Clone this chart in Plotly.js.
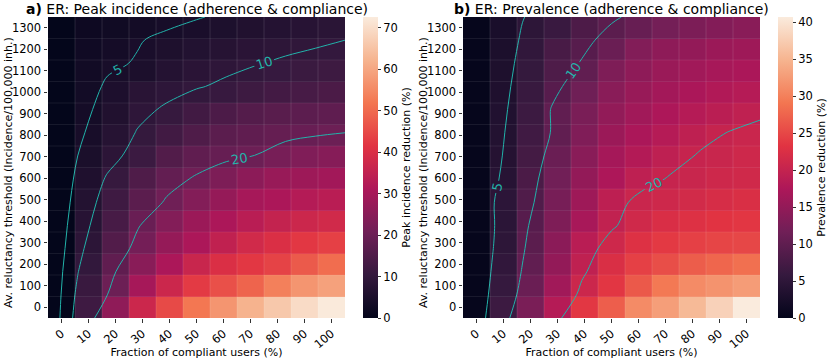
<!DOCTYPE html>
<html>
<head>
<meta charset="utf-8">
<script src="https://cdn.plot.ly/plotly-3.0.1.min.js"></script>
<style>
  body { margin: 0; background: #fff; }
  #plot { width: 830px; height: 359px; }
</style>
</head>
<body>
<div id="plot"></div>
<script>
// fraction of compliant users (%) and reluctancy threshold (incidence / 100,000 inh.)
var fractions = [0, 10, 20, 30, 40, 50, 60, 70, 80, 90, 100];
var thresholds = [0, 100, 200, 300, 400, 500, 600, 700, 800, 900, 1000, 1100, 1200, 1300];

// a) peak incidence reduction (%), one row per threshold
var peak_reduction = [
  [0.3, 12.0, 26.0, 37.0, 45.0, 52.0, 57.0, 62.0, 66.0, 69.5, 72.4],
  [0.3, 11.0, 20.0, 30.0, 37.0, 42.5, 46.0, 49.0, 53.5, 57.0, 59.0],
  [0.3, 9.8, 18.0, 25.0, 31.0, 36.5, 40.0, 42.0, 44.0, 47.5, 50.5],
  [0.3, 8.5, 15.5, 21.5, 27.0, 31.0, 35.0, 38.0, 40.0, 42.0, 43.5],
  [0.3, 7.5, 13.5, 19.5, 24.0, 28.0, 31.0, 33.5, 35.5, 37.0, 38.0],
  [0.3, 6.6, 12.0, 17.0, 20.5, 24.0, 27.0, 30.0, 31.0, 32.5, 33.5],
  [0.3, 5.8, 10.5, 15.0, 18.5, 20.5, 23.0, 25.5, 27.5, 28.5, 29.3],
  [0.3, 5.0, 8.5, 11.5, 15.5, 18.0, 19.0, 20.1, 22.0, 23.5, 24.5],
  [0.3, 4.3, 7.2, 10.2, 12.5, 15.0, 17.0, 18.0, 18.8, 19.4, 20.0],
  [0.3, 3.8, 6.2, 9.0, 10.5, 12.5, 14.5, 15.8, 16.7, 17.3, 17.8],
  [0.3, 3.4, 5.4, 7.8, 8.8, 9.7, 10.7, 11.8, 12.8, 13.6, 14.2],
  [0.3, 3.1, 4.5, 5.2, 6.8, 8.0, 9.0, 9.8, 10.6, 11.3, 11.8],
  [0.3, 2.8, 3.8, 4.8, 5.6, 6.5, 7.3, 8.0, 8.7, 9.3, 10.0],
  [0.3, 2.3, 3.0, 3.6, 4.2, 4.8, 5.5, 6.2, 6.8, 7.5, 8.2]
];

// b) prevalence reduction (%), one row per threshold
var prev_reduction = [
  [0.3, 6.5, 12.6, 18.3, 23.6, 27.0, 31.0, 32.8, 35.5, 38.0, 40.7],
  [0.3, 5.8, 11.0, 16.3, 20.8, 23.5, 26.5, 29.3, 31.0, 31.8, 32.6],
  [0.3, 5.3, 10.2, 15.0, 19.5, 22.4, 24.4, 25.6, 26.9, 27.7, 28.5],
  [0.3, 4.9, 9.6, 14.2, 18.8, 21.0, 22.8, 23.8, 24.4, 24.8, 25.0],
  [0.3, 4.7, 9.2, 13.0, 17.0, 19.7, 21.2, 22.3, 22.8, 23.2, 23.5],
  [0.3, 4.8, 8.5, 12.3, 16.0, 19.2, 20.6, 21.0, 21.5, 22.0, 22.4],
  [0.3, 4.2, 8.0, 11.7, 15.0, 17.5, 19.3, 20.2, 20.5, 21.0, 21.2],
  [0.3, 3.9, 7.3, 11.0, 14.0, 16.7, 18.1, 19.3, 20.2, 20.5, 21.0],
  [0.3, 3.7, 6.9, 10.2, 13.2, 15.7, 17.3, 18.3, 19.4, 20.1, 20.6],
  [0.3, 3.5, 6.5, 10.2, 12.6, 14.9, 16.3, 17.5, 18.3, 18.9, 19.5],
  [0.3, 3.3, 6.1, 9.2, 11.5, 14.0, 15.5, 16.5, 17.3, 17.9, 18.3],
  [0.3, 3.1, 5.7, 8.3, 10.2, 13.0, 14.5, 15.6, 16.3, 16.9, 17.3],
  [0.3, 2.9, 5.3, 7.7, 9.2, 11.0, 13.4, 14.5, 15.0, 15.7, 16.0],
  [0.3, 2.7, 4.9, 6.2, 8.2, 9.6, 10.8, 12.0, 12.8, 13.5, 14.0]
];

var peak_ticks = [0, 10, 20, 30, 40, 50, 60, 70];
var prev_ticks = [0, 5, 10, 15, 20, 25, 30, 35, 40];

// seaborn "rocket"
var rocket = [
  [0.0, '#03051a'], [0.143, '#35193e'], [0.286, '#701f57'], [0.429, '#ad1759'],
  [0.571, '#e13342'], [0.714, '#f37651'], [0.857, '#f6b48f'], [1.0, '#faebdd']
];

var font_family = 'DejaVu Sans, sans-serif';
var line_col = '#22b3aa';
var y_title = 'Av. reluctancy threshold (Incidence/100,000 inh.)';

// contours were drawn over the full heatmap extent (edge to edge), not cell centres
var dx = fractions[1] - fractions[0];
var dy = thresholds[1] - thresholds[0];
var x_lo = fractions[0] - dx / 2, x_hi = fractions[fractions.length - 1] + dx / 2;
var y_lo = thresholds[0] - dy / 2, y_hi = thresholds[thresholds.length - 1] + dy / 2;
var cont_x = fractions.map(function (v, i) { return x_lo + i * (x_hi - x_lo) / (fractions.length - 1); });
var cont_y = thresholds.map(function (v, j) { return y_lo + j * (y_hi - y_lo) / (thresholds.length - 1); });

function heat(z, xa, ya, ticks, zmax, cb_x, cb_title) {
  return {
    type: 'heatmap', x: fractions, y: thresholds, z: z, xaxis: xa, yaxis: ya,
    colorscale: rocket, zmin: 0, zmax: zmax,
    colorbar: {
      x: cb_x, xanchor: 'left', xpad: 0, ypad: 0, y: 0, yanchor: 'bottom', len: 1,
      thickness: 15, outlinewidth: 0, ticks: 'outside', ticklen: 3.5, tickcolor: '#333',
      tickvals: ticks, tickfont: { size: 11.5, family: font_family, color: '#000' },
      title: { text: cb_title, side: 'right', font: { size: 11, family: font_family, color: '#000' } }
    }
  };
}

function contour(z, xa, ya, start, end, size) {
  return {
    type: 'contour', x: cont_x, y: cont_y, z: z, xaxis: xa, yaxis: ya,
    showscale: false, hoverinfo: 'skip',
    contours: { coloring: 'none', start: start, end: end, size: size, showlabels: true,
                labelfont: { size: 13, family: font_family, color: line_col } },
    line: { color: line_col, width: 1, smoothing: 1 }
  };
}

var data = [
  heat(peak_reduction, 'x', 'y', peak_ticks, 72.6, 0.4028, 'Peak incidence reduction (%)'),
  contour(peak_reduction, 'x', 'y', 5, 10, 5),
  contour(peak_reduction, 'x', 'y', 20, 29, 10),
  heat(prev_reduction, 'x2', 'y2', prev_ticks, 40.7, 0.9335, 'Prevalence reduction (%)'),
  contour(prev_reduction, 'x2', 'y2', 5, 10, 5),
  contour(prev_reduction, 'x2', 'y2', 20, 29, 10)
];

function xax(domain, anchor) {
  return {
    domain: domain, anchor: anchor, range: [x_lo, x_hi], tickvals: fractions,
    tickangle: -40, ticks: 'outside', ticklen: 3.5, tickcolor: '#333',
    showgrid: false, zeroline: false, showline: false,
    tickfont: { size: 11.5, family: font_family, color: '#000' },
    title: { text: 'Fraction of compliant users (%)', font: { size: 11, family: font_family, color: '#000' }, standoff: 1 }
  };
}
function yax(anchor) {
  return {
    domain: [0, 1], anchor: anchor, range: [y_lo, y_hi], tickvals: thresholds,
    ticks: 'outside', ticklen: 3.5, tickcolor: '#333',
    showgrid: false, zeroline: false, showline: false,
    tickfont: { size: 11.5, family: font_family, color: '#000' }
  };
}

// faint seams between cells
var shapes = [];
var axes_pairs = [['x', 'y'], ['x2', 'y2']];
for (let k = 0; k < axes_pairs.length; k++) {
  for (let i = 1; i < fractions.length; i++) {
    var bx = (fractions[i - 1] + fractions[i]) / 2;
    shapes.push({ type: 'line', xref: axes_pairs[k][0], yref: axes_pairs[k][1], x0: bx, x1: bx, y0: y_lo, y1: y_hi,
                  line: { color: 'rgba(255,255,255,0.12)', width: 1 }, layer: 'above' });
  }
  for (let j = 1; j < thresholds.length; j++) {
    var by = (thresholds[j - 1] + thresholds[j]) / 2;
    shapes.push({ type: 'line', xref: axes_pairs[k][0], yref: axes_pairs[k][1], x0: x_lo, x1: x_hi, y0: by, y1: by,
                  line: { color: 'rgba(255,255,255,0.08)', width: 1 }, layer: 'above' });
  }
}

var layout = {
  width: 830, height: 359,
  margin: { l: 48, r: 0, t: 17, b: 41 },
  paper_bgcolor: '#fff', plot_bgcolor: '#fff',
  font: { family: font_family, color: '#000' },
  showlegend: false,
  xaxis: xax([0, 0.3798], 'y'),
  yaxis: yax('x'),
  xaxis2: xax([0.5307, 0.9105], 'y2'),
  yaxis2: yax('x2'),
  shapes: shapes,
  annotations: [
    { text: '<b>a)</b> ER: Peak incidence (adherence & compliance)', xref: 'paper', yref: 'paper',
      x: 0.1899, y: 1.027, xanchor: 'center', yanchor: 'middle', showarrow: false,
      font: { size: 14, family: font_family, color: '#000' } },
    { text: '<b>b)</b> ER: Prevalence (adherence & compliance)', xref: 'paper', yref: 'paper',
      x: 0.7206, y: 1.027, xanchor: 'center', yanchor: 'middle', showarrow: false,
      font: { size: 14, family: font_family, color: '#000' } },
    { text: y_title, textangle: -90, xref: 'paper', yref: 'paper',
      x: -0.0512, y: 0.485, xanchor: 'center', yanchor: 'middle', showarrow: false,
      font: { size: 11, family: font_family, color: '#000' } },
    { text: y_title, textangle: -90, xref: 'paper', yref: 'paper',
      x: 0.4795, y: 0.485, xanchor: 'center', yanchor: 'middle', showarrow: false,
      font: { size: 11, family: font_family, color: '#000' } }
  ]
};

Plotly.newPlot('plot', data, layout, { displayModeBar: false, staticPlot: true });
</script>
</body>
</html>
